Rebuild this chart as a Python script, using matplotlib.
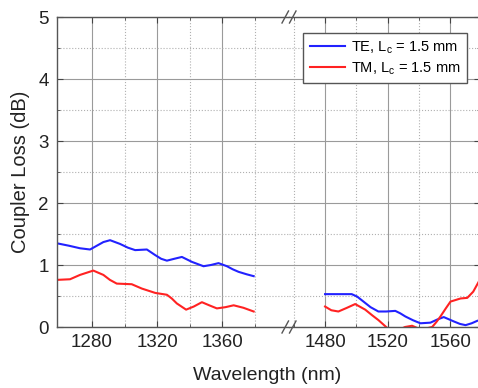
import matplotlib
matplotlib.use("Agg")
import matplotlib.pyplot as plt
from matplotlib.lines import Line2D
from matplotlib.ticker import FixedLocator, MultipleLocator

plt.rcParams["font.family"] = ["Liberation Sans", "DejaVu Sans"]
plt.rcParams["mathtext.fontset"] = "custom"
plt.rcParams["mathtext.rm"] = "Liberation Sans"

# O-band segment
wl_o_te = [1258.5, 1266, 1272.6, 1278.8, 1282.9, 1287, 1291.1, 1297.2, 1302, 1306.5, 1313.7, 1318.8,
           1322.5, 1326, 1330.5, 1335.2, 1341.4, 1348.5, 1353, 1357.7, 1362.9, 1366.5, 1370,
           1375, 1379.3]
te_o = [1.35, 1.31, 1.27, 1.25, 1.31, 1.37, 1.40, 1.34, 1.28, 1.24, 1.25, 1.16,
        1.10, 1.07, 1.10, 1.13, 1.05, 0.98, 1.00, 1.03, 0.98, 0.93, 0.89,
        0.85, 0.82]
wl_o_tm = [1258.5, 1266.5, 1272.6, 1280.8, 1287, 1291, 1295.2, 1304.4, 1310.6, 1318.8, 1326,
           1329, 1332.1, 1337.8, 1342.5, 1347.5, 1352, 1356.7, 1362, 1367, 1373, 1379.3]
tm_o = [0.76, 0.77, 0.84, 0.91, 0.84, 0.76, 0.70, 0.69, 0.62, 0.55, 0.52,
        0.46, 0.38, 0.28, 0.33, 0.40, 0.35, 0.30, 0.32, 0.35, 0.31, 0.25]

# C-band segment
wl_c_te = [1480, 1488, 1497, 1500.5, 1504.5, 1509, 1514, 1519, 1524.8, 1528, 1531.2, 1536,
           1540.8, 1547.2, 1551.5, 1555.7, 1562.1, 1566, 1569.6, 1573.5, 1577.1, 1578.5]
te_c = [0.53, 0.53, 0.53, 0.49, 0.41, 0.32, 0.25, 0.25, 0.26, 0.22, 0.17, 0.11,
        0.06, 0.07, 0.12, 0.16, 0.09, 0.05, 0.03, 0.06, 0.10, 0.11]
wl_c_tm = [1480, 1484, 1488.5, 1494, 1499.2, 1505.6, 1510, 1514.1, 1520.3, 1526, 1531,
           1535.5, 1541, 1545, 1548.3, 1551, 1553.6, 1557, 1560, 1566.4, 1570.7, 1574.5, 1578]
tm_c = [0.33, 0.27, 0.25, 0.31, 0.37, 0.28, 0.19, 0.11, -0.03, -0.06, 0.00,
        0.02, -0.04, -0.02, 0.00, 0.08, 0.17, 0.30, 0.41, 0.46, 0.47, 0.57, 0.73]

TE_COLOR = "#2222ff"
TM_COLOR = "#ff2222"
W, H = 478, 388

fig = plt.figure(figsize=(W / 100, H / 100), dpi=100)
ax1 = fig.add_axes([57 / W, 1 - 327 / H, (289 - 57) / W, 310 / H])
ax2 = fig.add_axes([289 / W, 1 - 327 / H, (479.5 - 289) / W, 310 / H])

ax1.plot(wl_o_te, te_o, color=TE_COLOR, lw=1.5, label="TE, L$_\\mathregular{c}$ = 1.5 mm")
ax1.plot(wl_o_tm, tm_o, color=TM_COLOR, lw=1.5, label="TM, L$_\\mathregular{c}$ = 1.5 mm")
ax2.plot(wl_c_te, te_c, color=TE_COLOR, lw=1.5)
ax2.plot(wl_c_tm, tm_c, color=TM_COLOR, lw=1.5)

ax1.set_xlim(1258.5, 1401)
ax2.set_xlim(1457, 1578.5)
ax1.xaxis.set_major_locator(FixedLocator([1280, 1320, 1360]))
ax1.xaxis.set_minor_locator(FixedLocator([1300, 1340, 1380]))
ax2.xaxis.set_major_locator(FixedLocator([1480, 1520, 1560]))
ax2.xaxis.set_minor_locator(FixedLocator([1460, 1500, 1540]))

for ax in (ax1, ax2):
    ax.set_ylim(0, 5)
    ax.yaxis.set_major_locator(MultipleLocator(1))
    ax.yaxis.set_minor_locator(MultipleLocator(0.5))
    ax.grid(which="major", color="#9a9a9a", lw=0.8, ls="-")
    ax.grid(which="minor", color="#b0b0b0", lw=0.8, ls=":")
    ax.set_axisbelow(True)
    ax.tick_params(which="both", direction="in", top=True, colors="#444444",
                   labelcolor="#222222", labelsize=13.5)
    ax.tick_params(which="major", length=4)
    ax.tick_params(which="minor", length=2)
    for s in ax.spines.values():
        s.set_color("#555555")
        s.set_linewidth(1.0)

ax1.spines["right"].set_visible(False)
ax2.spines["left"].set_visible(False)
ax1.tick_params(which="both", right=False)
ax2.tick_params(which="both", left=False, labelleft=False, right=True)
ax1.tick_params(axis="y", pad=6)
ax1.tick_params(axis="x", pad=5)
ax2.tick_params(axis="x", pad=5)

ax1.set_ylabel("Coupler Loss (dB)", fontsize=14.5, color="#222222", labelpad=6)
fig.text(0.5 * (57 + 478) / W, 1 - 376 / H, "Wavelength (nm)", fontsize=14,
         color="#222222", ha="center", va="center")

# axis break marks
for y0 in (17, 327):
    for dx in (0, 7.5):
        x_a, x_b = 282 + dx, 288.5 + dx
        fig.add_artist(Line2D([x_a / W, x_b / W], [1 - (y0 + 6) / H, 1 - (y0 - 6) / H],
                              color="#555555", lw=1.0, transform=fig.transFigure))

leg = ax2.legend(*ax1.get_legend_handles_labels(), loc="upper right",
                 bbox_to_anchor=(467 / W, 1 - 33 / H), bbox_transform=fig.transFigure,
                 borderaxespad=0, fontsize=10.5, fancybox=False, framealpha=1,
                 edgecolor="#555555", handlelength=2.4, handletextpad=0.4,
                 borderpad=0.45, labelspacing=0.25)
leg.get_frame().set_linewidth(1.0)

fig.savefig("out.png", dpi=100)
